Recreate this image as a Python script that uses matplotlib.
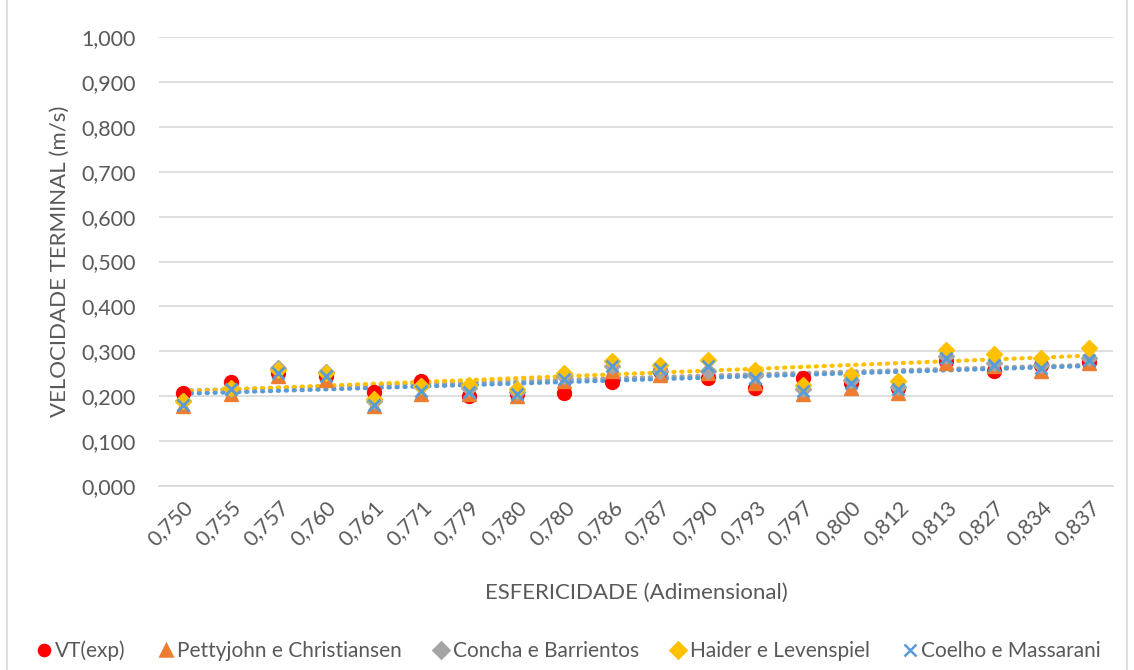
import numpy as np
import matplotlib
matplotlib.use('Agg')
import matplotlib.pyplot as plt
from matplotlib.patches import Rectangle
from matplotlib.lines import Line2D

plt.rcParams['font.family'] = ['Lato', 'DejaVu Sans']

# Esfericidade das partículas (eixo de categorias)
esfericidade = ['0,750', '0,755', '0,757', '0,760', '0,761', '0,771', '0,779', '0,780', '0,780', '0,786',
                '0,787', '0,790', '0,793', '0,797', '0,800', '0,812', '0,813', '0,827', '0,834', '0,837']

# Velocidade terminal (m/s)
vt_exp = [0.207, 0.231, 0.252, 0.245, 0.209, 0.233, 0.200, 0.205, 0.207, 0.231,
          0.256, 0.241, 0.219, 0.241, 0.230, 0.219, 0.278, 0.256, 0.270, 0.276]
pettyjohn = [0.178, 0.204, 0.245, 0.237, 0.178, 0.205, 0.205, 0.200, 0.233, 0.256,
             0.248, 0.252, 0.230, 0.204, 0.219, 0.208, 0.274, 0.267, 0.256, 0.274]
concha = [0.190, 0.215, 0.263, 0.255, 0.190, 0.222, 0.218, 0.210, 0.244, 0.268,
          0.256, 0.256, 0.248, 0.215, 0.237, 0.220, 0.289, 0.274, 0.270, 0.285]
haider = [0.189, 0.219, 0.258, 0.252, 0.193, 0.222, 0.226, 0.216, 0.252, 0.278,
          0.270, 0.281, 0.258, 0.226, 0.248, 0.233, 0.304, 0.295, 0.285, 0.307]
coelho = [0.181, 0.215, 0.252, 0.245, 0.181, 0.211, 0.210, 0.204, 0.238, 0.267,
          0.260, 0.267, 0.241, 0.211, 0.230, 0.215, 0.285, 0.270, 0.263, 0.281]

txt = '#595959'
grid = '#d9d9d9'

fig = plt.figure(figsize=(11.34, 6.70), dpi=100)
ax = fig.add_axes([159 / 1134, 184 / 670, 954 / 1134, 449 / 670])

# moldura do gráfico
fig.patches.append(Rectangle((7 / 1134, -0.01), 1120 / 1134, 1.02, transform=fig.transFigure,
                             fill=False, edgecolor=grid, lw=1.2))

x = np.arange(1, len(esfericidade) + 1)

series = [
    (vt_exp, 'VT(exp)', '#ff0000', 'o', 10, False),
    (pettyjohn, 'Pettyjohn e Christiansen', '#ed7d31', '^', 10, False),
    (concha, 'Concha e Barrientos', '#a5a5a5', 'D', 8.5, True),
    (haider, 'Haider e Levenspiel', '#ffc000', 'D', 8.5, True),
    (coelho, 'Coelho e Massarani', '#5b9bd5', 'x', 9, True),
]

handles = []
for vals, nome, cor, mk, ms, trend in series:
    if mk == 'x':
        ax.plot(x, vals, ls='none', marker=mk, ms=ms, mew=2, color=cor, zorder=4)
    else:
        ax.plot(x, vals, ls='none', marker=mk, ms=ms, color=cor, mec=cor, zorder=3)
    if trend:
        # linha de tendência linear
        a, b = np.polyfit(x, vals, 1)
        ax.plot(x, a * x + b, ls=(0, (0.3, 1.6)), lw=3, color=cor,
                dash_capstyle='round', zorder=2)
    handles.append(Line2D([], [], ls='none', marker=mk, color=cor,
                          ms=8 if mk != 'x' else 9, mew=1.8, label=nome))

ax.set_ylim(0, 1.0)
ax.set_xlim(0.5, len(esfericidade) + 0.5)
ax.set_yticks(np.arange(0, 1.01, 0.1))
ax.set_yticklabels([f'{v:.3f}'.replace('.', ',') for v in np.arange(0, 1.01, 0.1)])
ax.set_xticks(x)
ax.set_xticklabels(esfericidade, rotation=45, ha='right', va='top', rotation_mode='anchor')

ax.grid(axis='y', color=grid, lw=1.2)
ax.set_axisbelow(True)
for s in ['top', 'right', 'left']:
    ax.spines[s].set_visible(False)
ax.spines['bottom'].set_color(grid)
ax.spines['bottom'].set_linewidth(1.2)
ax.tick_params(axis='both', length=0, colors=txt, labelsize=15.5)
ax.tick_params(axis='y', pad=17)
ax.tick_params(axis='x', pad=8)

ax.set_ylabel('VELOCIDADE TERMINAL (m/s)', fontsize=16, color=txt, labelpad=8)
ax.set_xlabel('ESFERICIDADE (Adimensional)', fontsize=16, color=txt, labelpad=24)

fig.legend(handles=handles, loc='center', bbox_to_anchor=(0.5, 19 / 670), ncol=5,
           frameon=False, fontsize=15, labelcolor=txt, handletextpad=0.05,
           columnspacing=1.4, handlelength=1.0)

fig.savefig('out.png', dpi=100)
